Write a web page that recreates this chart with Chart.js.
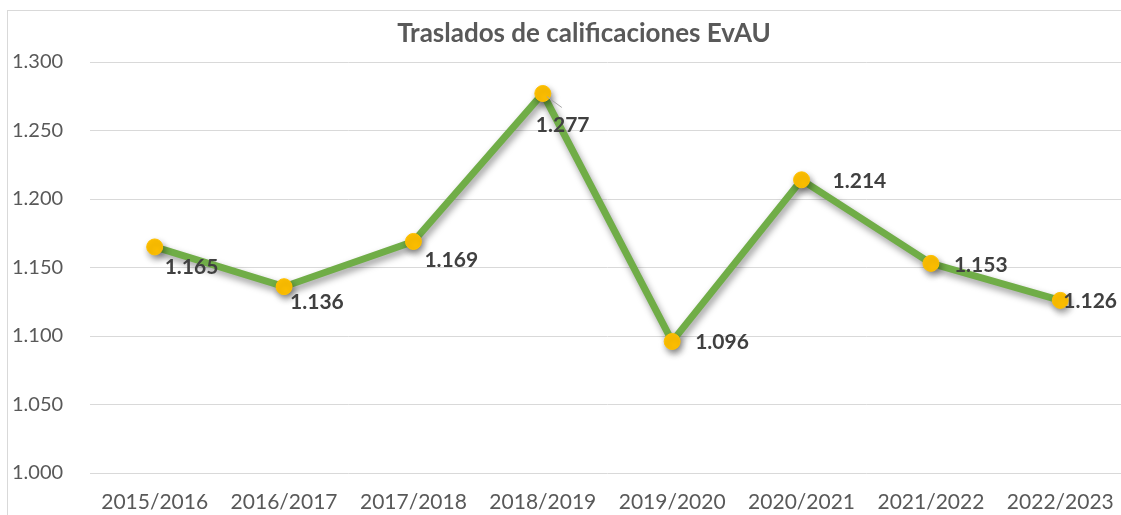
<!DOCTYPE html>
<html>
<head>
<meta charset="utf-8">
<script src="https://cdn.jsdelivr.net/npm/chart.js@4"></script>
<style>
  html, body { margin: 0; padding: 0; background: #fff; overflow: hidden; }
  body { width: 1121px; height: 515px; position: relative; }
  .frame {
    position: absolute; left: 7px; top: 10px; width: 1140px; height: 520px;
    border-left: 1px solid #d9d9d9; border-top: 1px solid #d9d9d9;
  }
  #chart { position: absolute; left: 0; top: 0; }
</style>
</head>
<body>
<div class="frame">
  <canvas id="chart" width="1126" height="505"></canvas>
</div>
<script>
// datos
const cursos = ['2015/2016', '2016/2017', '2017/2018', '2018/2019', '2019/2020', '2020/2021', '2021/2022', '2022/2023'];
const traslados = [1165, 1136, 1169, 1277, 1096, 1214, 1153, 1126];
const ejeMin = 1000, ejeMax = 1300, ejePaso = 50;
const titulo = 'Traslados de calificaciones EvAU';

// 1165 -> "1.165"
function fmt(v) {
  return String(Math.round(v)).replace(/\B(?=(\d{3})+(?!\d))/g, '.');
}

// desplazamiento de cada etiqueta respecto al punto (x, y)
const labelPos = [[10, 20], [6, 16], [11, 19], [-7, 32], [23, 1], [31, 1], [23, 2], [3, 1]];

const shadowPlugin = {
  id: 'shadow',
  beforeDatasetsDraw(chart) {
    const ctx = chart.ctx;
    ctx.save();
    ctx.shadowColor = 'rgba(0,0,0,0.4)';
    ctx.shadowBlur = 7;
    ctx.shadowOffsetX = 2;
    ctx.shadowOffsetY = 4;
  },
  afterDatasetsDraw(chart) {
    chart.ctx.restore();
  }
};

const titlePlugin = {
  id: 'titulo',
  afterDraw(chart) {
    const ctx = chart.ctx;
    ctx.save();
    ctx.font = 'bold 26px Lato';
    ctx.fillStyle = '#595959';
    ctx.textAlign = 'center';
    ctx.textBaseline = 'alphabetic';
    ctx.fillText(titulo, chart.width / 2 + 13, 31);
    ctx.restore();
  }
};

const labelsPlugin = {
  id: 'valueLabels',
  afterDatasetsDraw(chart) {
    const ctx = chart.ctx;
    const meta = chart.getDatasetMeta(0);
    ctx.save();
    ctx.font = 'bold 21px Lato';
    ctx.fillStyle = '#404040';
    ctx.textAlign = 'left';
    ctx.textBaseline = 'middle';
    meta.data.forEach((pt, i) => {
      const [dx, dy] = labelPos[i];
      if (i === 3) {
        // línea guía del 1.277
        ctx.strokeStyle = '#a6a6a6';
        ctx.lineWidth = 1;
        ctx.beginPath();
        ctx.moveTo(pt.x + 4, pt.y + 3);
        ctx.lineTo(pt.x + 19, pt.y + 14);
        ctx.stroke();
      }
      ctx.fillText(fmt(traslados[i]), pt.x + dx, pt.y + dy);
    });
    ctx.restore();
  }
};

new Chart(document.getElementById('chart'), {
  type: 'line',
  data: {
    labels: cursos,
    datasets: [{
      data: traslados,
      borderColor: '#70ad47',
      borderWidth: 7,
      tension: 0,
      pointRadius: 8,
      pointBackgroundColor: '#ffc000',
      pointBorderColor: '#ffc000',
      pointBorderWidth: 1
    }]
  },
  options: {
    responsive: false,
    animation: false,
    layout: { padding: { top: 51, right: 2, bottom: 0, left: 4 } },
    scales: {
      y: {
        min: ejeMin,
        max: ejeMax,
        afterFit(scale) { scale.width = 78; },
        ticks: {
          stepSize: ejePaso,
          crossAlign: 'far',
          color: '#595959',
          font: { family: 'Lato', size: 20 },
          callback: v => fmt(v)
        },
        grid: { color: '#d9d9d9', drawTicks: false },
        border: { display: false }
      },
      x: {
        offset: true,
        afterFit(scale) { scale.height = 43; },
        ticks: {
          color: '#595959',
          font: { family: 'Lato', size: 21 },
          padding: 9,
          maxRotation: 0
        },
        grid: { display: false },
        border: { display: false }
      }
    },
    plugins: {
      legend: { display: false },
      tooltip: { enabled: false },
      title: { display: false }
    }
  },
  plugins: [shadowPlugin, labelsPlugin, titlePlugin]
});
</script>
</body>
</html>
